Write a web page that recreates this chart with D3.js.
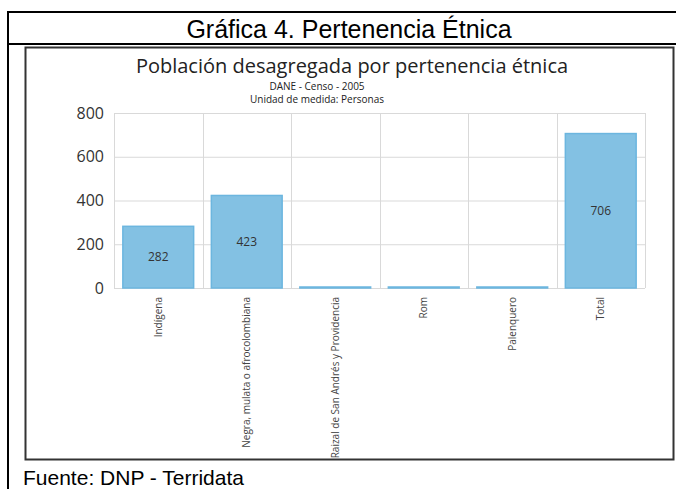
<!DOCTYPE html>
<html>
<head>
<meta charset="utf-8">
<style>
    body { margin: 0; background: #fff; }
    svg { display: block; }
    .grid line { stroke: #d9d9d9; stroke-width: 1; }
    .xlab { font-family: "Open Sans", sans-serif; font-size: 10px; fill: #444; }
</style>
</head>
<body>
<script src="https://cdn.jsdelivr.net/npm/d3@7"></script>
<script>

    // data
    var categories = ["Indígena", "Negra, mulata o afrocolombiana", "Raizal de San Andrés y Providencia", "Rom", "Palenquero", "Total"];
    var personas = [282, 423, 1, 0, 0, 706];
    var yTicks = [0, 200, 400, 600, 800];

    var W = 676, H = 489;

    var svg = d3.select("body").append("svg")
        .attr("width", W)
        .attr("height", H);

    // document frame (table around the chart)
    var frame = svg.append("g").attr("fill", "none").attr("stroke", "#000").attr("stroke-width", 2);
    frame.append("line").attr("x1", 8).attr("x2", W).attr("y1", 12).attr("y2", 12);
    frame.append("line").attr("x1", 8).attr("x2", W).attr("y1", 44).attr("y2", 44);
    frame.append("line").attr("x1", 8).attr("x2", 8).attr("y1", 11).attr("y2", H);

    svg.append("text")
        .attr("x", 349).attr("y", 38)
        .attr("text-anchor", "middle")
        .style("font-family", "'Liberation Sans', Arial, sans-serif")
        .style("font-size", "25px")
        .text("Gráfica 4. Pertenencia Étnica");

    svg.append("text")
        .attr("x", 23).attr("y", 485)
        .style("font-family", "'Liberation Sans', Arial, sans-serif")
        .style("font-size", "21px")
        .text("Fuente: DNP - Terridata");

    // chart image box
    svg.append("rect")
        .attr("x", 25.5).attr("y", 47.5)
        .attr("width", 648).attr("height", 412)
        .attr("fill", "#fff")
        .attr("stroke", "#333")
        .attr("stroke-width", 2);

    var chartTitle = svg.append("g").attr("text-anchor", "middle")
        .style("font-family", "'Open Sans', sans-serif").attr("fill", "#222");
    chartTitle.append("text").attr("x", 352).attr("y", 73).style("font-size", "20px")
        .text("Población desagregada por pertenencia étnica");
    chartTitle.append("text").attr("x", 317).attr("y", 90).style("font-size", "10px")
        .text("DANE - Censo - 2005");
    chartTitle.append("text").attr("x", 317).attr("y", 103).style("font-size", "10px")
        .text("Unidad de medida: Personas");

    var plotLeft = 114, plotRight = 645, plotTop = 113, plotBottom = 288;

    var x = d3.scaleBand()
        .domain(categories)
        .range([plotLeft, plotRight])
        .paddingInner(0.2)
        .paddingOuter(0.1);

    var y = d3.scaleLinear()
        .domain([0, 800])
        .range([plotBottom, plotTop]);

    var grid = svg.append("g").attr("class", "grid");
    grid.selectAll(".h").data(yTicks).enter().append("line")
        .attr("x1", plotLeft).attr("x2", plotRight)
        .attr("y1", function(d) { return y(d) + 0.5; })
        .attr("y2", function(d) { return y(d) + 0.5; });
    var edges = d3.range(categories.length + 1).map(function(i) { return plotLeft + i * x.step(); });
    grid.selectAll(".v").data(edges).enter().append("line")
        .attr("x1", function(d) { return Math.round(d) + 0.5; })
        .attr("x2", function(d) { return Math.round(d) + 0.5; })
        .attr("y1", plotTop).attr("y2", plotBottom);

    var yAxis = svg.append("g")
        .attr("transform", "translate(" + (plotLeft - 10) + ",0)")
        .call(d3.axisLeft(y).tickValues(yTicks).tickSize(0).tickPadding(0));
    yAxis.select(".domain").remove();
    yAxis.selectAll("text")
        .style("font-family", "'Open Sans', sans-serif")
        .style("font-size", "16px")
        .attr("fill", "#333");

    var rows = categories.map(function(c, i) { return { cat: c, v: personas[i] }; });

    svg.append("g").selectAll("rect").data(rows).enter().append("rect")
        .attr("x", function(d) { return x(d.cat); })
        .attr("width", x.bandwidth())
        .attr("y", function(d) { return Math.min(y(d.v), plotBottom - 1); })
        .attr("height", function(d) { return Math.max(plotBottom - y(d.v), 1); })
        .attr("fill", "#83c1e3")
        .attr("stroke", "#6cb6df")
        .attr("stroke-width", 1.5);

    svg.append("g").selectAll("text").data(rows.filter(function(d) { return d.v > 50; }))
        .enter().append("text")
        .attr("x", function(d) { return x(d.cat) + x.bandwidth() / 2; })
        .attr("y", function(d) { return (y(d.v) + plotBottom) / 2 + 4; })
        .attr("text-anchor", "middle")
        .style("font-family", "'Open Sans', sans-serif")
        .style("font-size", "12px")
        .attr("fill", "#333")
        .text(function(d) { return d.v; });

    svg.append("g").selectAll("text").data(categories).enter().append("text")
        .attr("class", "xlab")
        .attr("text-anchor", "end")
        .attr("transform", function(d) {
            return "translate(" + (x(d) + x.bandwidth() / 2 + 3.5) + "," + (plotBottom + 9) + ") rotate(-90)";
        })
        .text(function(d) { return d; });

</script>
</body>
</html>
